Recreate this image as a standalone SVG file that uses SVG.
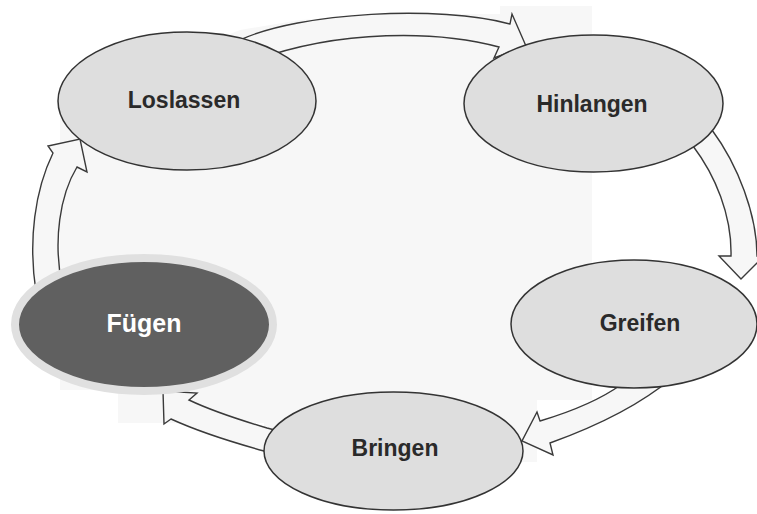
<svg xmlns="http://www.w3.org/2000/svg" width="757" height="514" viewBox="0 0 757 514">
<style>
.arrow{fill:#f7f7f7;stroke:#3a3a3a;stroke-width:1.4;stroke-linejoin:miter}
.node{fill:#dedede;stroke:#333;stroke-width:1.5}
.lbl{font-family:"Liberation Sans",Arial,sans-serif;font-weight:bold;font-size:23px;fill:#2a2a2a;text-anchor:middle}
</style>
<rect width="757" height="514" fill="#ffffff"/>
<path d="M240,30 L300,20 L400,14 L500,14 L500,6 L592,6 L592,400 L537,400 L537,462 L264,462 L264,423 L118,423 L118,390 L60,390 L60,101 Z" fill="#f7f7f7"/>
<g id="connectors">
  <path class="arrow" d="M240,40 C300,12 440,5 510,24 L512,14 L526,46 L494,58 L499,47 C440,31 340,28 250,62 Z"/>
  <path class="arrow" d="M700,116 L712,130 C738,165 757,215 757,256 L764,256 L741,279 L719,256 L731,256 C732,215 715,175 693,146 L680,130 Z"/>
  <path class="arrow" d="M672,378 C640,405 600,425 550,443 L553,455 L522,441 L537,412 L540,421 C570,412 600,400 622,384 Z"/>
  <path class="arrow" d="M285,456 L264,451 C235,443 195,430 171,419 L164,424 L163,391 L197,393 L189,400 C210,410 240,420 267,428 L290,434 Z"/>
  <path class="arrow" d="M36,292 C28,240 35,190 53,153 L48,146 L80,139 L87,172 L77,167 C60,195 53,240 62,285 Z"/>
</g>
<g id="loslassen">
  <ellipse class="node" cx="187" cy="101" rx="129" ry="69"/>
  <text class="lbl" x="184" y="108">Loslassen</text>
</g>
<g id="hinlangen">
  <ellipse class="node" cx="593.5" cy="103.5" rx="129.5" ry="68.5"/>
  <text class="lbl" x="592" y="112">Hinlangen</text>
</g>
<g id="greifen">
  <ellipse class="node" cx="634" cy="324" rx="123" ry="64"/>
  <text class="lbl" x="640" y="331">Greifen</text>
</g>
<g id="bringen">
  <ellipse class="node" cx="393.5" cy="451" rx="129.5" ry="59"/>
  <text class="lbl" x="395" y="456">Bringen</text>
</g>
<g id="fuegen">
  <ellipse cx="144" cy="324.5" rx="129" ry="66.5" fill="#606060" stroke="#e0e0e0" stroke-width="8"/>
  <text class="lbl" x="144" y="332" style="fill:#ffffff;font-size:25px">Fügen</text>
</g>
</svg>
